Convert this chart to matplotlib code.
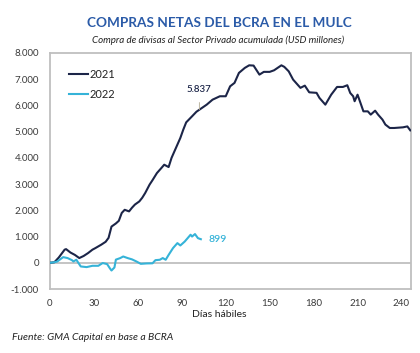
import matplotlib
matplotlib.use("Agg")
import matplotlib.pyplot as plt
from matplotlib.ticker import FuncFormatter

plt.rcParams['font.family'] = ['Lato', 'DejaVu Sans']

days_2021 = [0, 3, 6, 10, 11, 14, 17, 20, 23, 26, 29, 31, 35, 38, 40, 42, 45, 47, 49, 51,
             54, 56, 58, 61, 63, 65, 68, 70, 73, 76, 78, 81, 83, 86, 89, 91, 93, 97, 100, 102,
             107, 111, 116, 120, 123, 126, 129, 133, 136, 139, 143, 146, 150, 153, 158, 160,
             163, 166, 171, 174, 177, 182, 184, 188, 192, 196, 200, 203, 205, 207, 208, 210,
             212, 214, 217, 219, 222, 224, 227, 229, 232, 235, 241, 244, 246]
vals_2021 = [0, 20, 200, 500, 520, 390, 300, 180, 260, 370, 500, 560, 690, 800, 950, 1380, 1500,
             1600, 1900, 2020, 1960, 2100, 2220, 2340, 2480, 2660, 2980, 3150, 3420, 3610, 3740,
             3650, 4000, 4380, 4760, 5075, 5355, 5585, 5760, 5837, 6030, 6220, 6350, 6350, 6730,
             6860, 7240, 7430, 7530, 7520, 7175, 7280, 7280, 7340, 7530, 7470, 7300, 6985, 6670,
             6755, 6500, 6480, 6285, 6030, 6410, 6705, 6705, 6770, 6475, 6350, 6160, 6410, 6095,
             5775, 5775, 5650, 5800, 5650, 5460, 5270, 5140, 5140, 5165, 5200, 5050]

days_2022 = [0, 3, 5, 9, 12, 15, 16, 18, 21, 25, 29, 33, 36, 39, 41, 42, 44, 45, 48, 50, 53, 56,
             59, 62, 66, 70, 72, 75, 77, 79, 81, 84, 87, 89, 92, 94, 96, 97, 99, 101, 103]
vals_2022 = [0, 20, 50, 215, 180, 100, 50, 115, -140, -165, -115, -115, -10, -50, -220, -295,
             -180, 120, 180, 240, 180, 130, 50, -40, -25, -20, 100, 115, 180, 115, 300, 560, 750,
             660, 810, 940, 1070, 1000, 1095, 940, 899]

x_ticks = [0, 30, 60, 90, 120, 150, 180, 210, 240]
y_ticks = [-1000, 0, 1000, 2000, 3000, 4000, 5000, 6000, 7000, 8000]

c21 = '#1c2548'
c22 = '#35b3d8'
title_c = '#2b5ba8'
grey = '#bfbfbf'
txt = '#3a3a3a'

fig = plt.figure(figsize=(4.2, 3.53), dpi=100)
ax = fig.add_axes([0.119, 0.1813, 0.8596, 0.6686])

ax.axhline(0, color=grey, lw=1.3, zorder=1)
ax.plot(days_2021, vals_2021, color=c21, lw=1.5, label='2021', zorder=3)
ax.plot(days_2022, vals_2022, color=c22, lw=1.5, label='2022', zorder=3)

ax.set_xlim(0, 246.5)
ax.set_ylim(-1000, 8000)
ax.set_xticks(x_ticks)
ax.set_yticks(y_ticks)
ax.yaxis.set_major_formatter(FuncFormatter(lambda v, p: f"{int(v):,}".replace(',', '.')))
ax.tick_params(length=0, labelsize=7, colors=txt)
ax.tick_params(axis='y', pad=8)
ax.tick_params(axis='x', pad=7)
for s in ax.spines.values():
    s.set_color(grey)
    s.set_linewidth(1.3)

# annotations
i21 = days_2021.index(102)
ax.annotate(f"{vals_2021[i21]/1000:.3f}", xy=(days_2021[i21], vals_2021[i21]), xytext=(102, 6600),
            ha='center', va='center', fontsize=7, color=c21, fontweight='semibold',
            arrowprops=dict(arrowstyle='-', color='#b0a890', lw=0.6, shrinkA=4, shrinkB=0))
ax.text(days_2022[-1] + 5, vals_2022[-1], f"{vals_2022[-1]}", ha='left', va='center',
        fontsize=7.5, color=c22, fontweight='semibold')

leg = ax.legend(loc='upper left', bbox_to_anchor=(0.04, 0.95), frameon=False, fontsize=8,
                handlelength=1.7, handletextpad=0.15, labelspacing=0.75, borderaxespad=0)
for t in leg.get_texts():
    t.set_color('#222222')

fig.text(0.522, 0.935, "COMPRAS NETAS DEL BCRA EN EL MULC", ha='center', va='center',
         fontsize=9.8, fontweight='bold', color=title_c)
fig.text(0.52, 0.887, "Compra de divisas al Sector Privado acumulada (USD millones)",
         ha='center', va='center', fontsize=7, style='italic', color='#222222')
fig.text(0.522, 0.108, "Días hábiles", ha='center', va='center', fontsize=7.5, color='#222222')
fig.text(0.029, 0.045, "Fuente: GMA Capital en base a BCRA", ha='left', va='center',
         fontsize=7.5, style='italic', color='#222222')

fig.savefig("out.png", dpi=100)
